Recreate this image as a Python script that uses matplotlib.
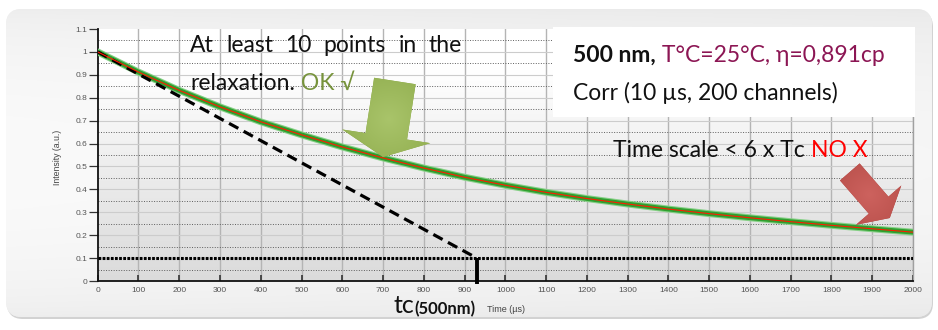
import numpy as np
import matplotlib.pyplot as plt
from matplotlib.patches import FancyBboxPatch, Polygon, Rectangle

# relaxation curve, one reading every 100 us
time_us = [0, 100, 200, 300, 400, 500, 600, 700, 800, 900, 1000,
           1100, 1200, 1300, 1400, 1500, 1600, 1700, 1800, 1900, 2000]
intensity = [1.0, 0.912, 0.832, 0.760, 0.695, 0.638, 0.585, 0.537, 0.493, 0.453, 0.418,
             0.387, 0.360, 0.336, 0.314, 0.294, 0.276, 0.259, 0.243, 0.228, 0.213]

# initial slope line and the 10 % level it crosses at tc
tangent_t = [0, 930]
tangent_y = [1.0, 0.1]
tc_us = 930
level = 0.1

x_ticks = list(range(0, 2001, 100))
y_ticks = [0, 0.1, 0.2, 0.3, 0.4, 0.5, 0.6, 0.7, 0.8, 0.9, 1.0, 1.1]
y_tick_labels = ['0', '0.1', '0.2', '0.3', '0.4', '0.5', '0.6', '0.7', '0.8', '0.9', '1', '1.1']

W, H = 938, 330
fig = plt.figure(figsize=(W / 100, H / 100), dpi=100)
fig.patch.set_facecolor('white')

# ---- rounded grey panel behind everything
bg = fig.add_axes([0, 0, 1, 1], zorder=-10)
bg.set_xlim(0, W)
bg.set_ylim(H, 0)
bg.axis('off')
shadow = FancyBboxPatch((7, 11), 926, 308, boxstyle='round,pad=0,rounding_size=16',
                        fc='#d2d2d2', ec='none')
bg.add_patch(shadow)
panel = FancyBboxPatch((6, 9), 926, 308, boxstyle='round,pad=0,rounding_size=16',
                       fc='#eeeeee', ec='none')
bg.add_patch(panel)
yy = np.linspace(0, 1, 200)[:, None]
xx = np.linspace(0, 1, 300)[None, :]
shade = 0.93 + 0.05 * np.sin(np.pi * yy) ** 0.6 - 0.015 * xx
panel_img = bg.imshow(np.dstack([shade, shade, shade]), extent=(6, 932, 317, 9),
                      aspect='auto', zorder=1)
panel_img.set_clip_path(panel)

# ---- main plot
left, right = 97.7, 913.0
top, bottom = 29.0, 281.0
ax = fig.add_axes([left / W, 1 - bottom / H, (right - left) / W, (bottom - top) / H])
ax.set_xlim(0, 2000)
ax.set_ylim(0, 1.1)

grad = np.linspace(0, 1, 256)[:, None]
g = np.clip(0.86 + 0.17 * (1 - grad) ** 1.1, 0, 1)
ax.imshow(np.dstack([g, g, g]), extent=(0, 2000, 0, 1.1), aspect='auto', zorder=0)

for x in x_ticks[1:]:
    ax.axvline(x, color='#b4b4b4', lw=1.0, zorder=1)
for y in y_ticks[1:-1]:
    ax.axhline(y, color='#cccccc', lw=0.8, zorder=1)
for y in np.array(y_ticks[:-1]) + 0.05:
    ax.axhline(y, color='#5e5e5e', lw=0.7, ls=(0, (1, 1.6)), zorder=1)

ax.plot(time_us, intensity, color='#86d086', lw=5.0, zorder=4, solid_capstyle='round')
ax.plot(time_us, intensity, color='#2f9f2f', lw=3.4, zorder=4, solid_capstyle='round')
ax.plot(time_us, intensity, color='#ff1a00', lw=0.8, zorder=5)

ax.plot(tangent_t, tangent_y, color='black', lw=2.3, ls=(0, (3.3, 1.9)), zorder=4.5)
ax.plot([0, 2000], [level, level], color='black', lw=2.2, ls=(0, (0.9, 0.45)), zorder=3)
ax.plot([tc_us, tc_us], [level, -0.013], color='black', lw=2.8, zorder=6,
        clip_on=False, solid_capstyle='butt')

ax.set_xticks(x_ticks)
ax.set_xticklabels([str(x) for x in x_ticks])
ax.set_yticks(y_ticks)
ax.set_yticklabels(y_tick_labels)
for lab in ax.get_xticklabels() + ax.get_yticklabels():
    lab.set_fontfamily('Liberation Sans')
ax.tick_params(axis='y', direction='out', length=6.3, width=0.9, color='#333333',
               pad=1.4, labelsize=6, labelcolor='#555555')
ax.tick_params(axis='x', direction='in', length=4, width=1.2, color='#333333',
               pad=4.5, labelsize=6, labelcolor='#555555')
ax.spines['top'].set_visible(False)
ax.spines['right'].set_color('#a0a0a0')
ax.spines['right'].set_linewidth(1.0)
for s in ('left', 'bottom'):
    ax.spines[s].set_color('#111111')
    ax.spines[s].set_linewidth(1.3)

# ---- overlay in pixel coordinates for the notes and arrows
over = fig.add_axes([0, 0, 1, 1], zorder=5)
over.set_xlim(0, W)
over.set_ylim(H, 0)
over.axis('off')
over.patch.set_alpha(0)


def to_px(t, v):
    px, py = ax.transData.transform((t, v))
    return np.array([px, H - py])


def block_arrow(tail, tip, shaft_w, head_w, head_len, inner, outer):
    d = tip - tail
    u = d / np.hypot(*d)
    n = np.array([-u[1], u[0]])
    base = tip - u * head_len
    pts = [tail + n * shaft_w / 2, base + n * shaft_w / 2, base + n * head_w / 2, tip,
           base - n * head_w / 2, base - n * shaft_w / 2, tail - n * shaft_w / 2]
    poly = Polygon(pts, closed=True, fc=outer, ec='none', zorder=3)
    over.add_patch(poly)
    # soft radial shading inside the arrow
    cx, cy = (tail + tip) / 2
    r = np.hypot(*d) / 2 + head_w / 2
    gx, gy = np.meshgrid(np.linspace(-1, 1, 120), np.linspace(-1, 1, 120))
    k = np.clip(np.hypot(gx, gy), 0, 1)[..., None]
    rgb = (1 - k) * np.array(inner) + k * np.array(outer)
    img = over.imshow(rgb, extent=(cx - r, cx + r, cy + r, cy - r), zorder=4)
    img.set_clip_path(poly)


def to_rgb(h):
    return [int(h[i:i + 2], 16) / 255 for i in (1, 3, 5)]


block_arrow(to_px(729, 0.873), to_px(700, 0.541), 42, 89, 21,
            to_rgb('#a9c46a'), to_rgb('#86a443'))
block_arrow(to_px(1845, 0.476), to_px(1943, 0.275), 26, 60, 17,
            to_rgb('#cd625e'), to_rgb('#b04843'))
over.set_xlim(0, W)
over.set_ylim(H, 0)

fam = ['Lato', 'DejaVu Sans']
fs = 16.5
renderer = fig.canvas.get_renderer()


def chain(prev, s, **kw):
    return over.annotate(s, xy=(1, 0), xycoords=prev, va='bottom', ha='left',
                         fontsize=fs, family=fam, zorder=10, **kw)


def justified(x0, x1, y, line):
    # spread the words of one line evenly between x0 and x1
    words = [over.text(0, y, w, fontsize=fs, family=fam, va='baseline',
                       color='#111111', zorder=10) for w in line.split()]
    inv = over.transData.inverted()
    widths = []
    for w in words:
        bb = w.get_window_extent(renderer)
        widths.append(inv.transform((bb.x1, 0))[0] - inv.transform((bb.x0, 0))[0])
    gap = (x1 - x0 - sum(widths)) / (len(words) - 1)
    x = x0
    for w, wd in zip(words, widths):
        w.set_x(x)
        x += wd + gap


justified(190, 462, 52, 'At least 10 points in the')
t = over.text(190, 90, 'relaxation.', fontsize=fs, family=fam, va='baseline',
              color='#111111', zorder=10)
chain(t, ' OK √', color='#77933c')

over.add_patch(Rectangle((553, 27), 362, 90, fc='white', ec='none', zorder=8))
t = over.text(573, 62, '500 nm,', fontsize=fs, family=fam, weight='bold',
              va='baseline', color='#111111', zorder=10)
chain(t, ' T°C=25°C, η=0,891cp', color='#8c1654')
over.text(573, 100, 'Corr (10 µs, 200 channels)', fontsize=fs, family=fam,
          va='baseline', color='#111111', zorder=10)

t = over.text(613, 157, 'Time scale < 6 x Tc ', fontsize=fs, family=fam,
              va='baseline', color='#111111', zorder=10)
chain(t, 'NO X', color='#ff0000')

# axis titles
over.text(58, 157, 'Intensity (a.u.)', rotation=90, fontsize=6.3, family='Liberation Sans',
          color='#444444', ha='center', va='center')
over.text(506, 309, 'Time (µs)', fontsize=6.5, family='Liberation Sans',
          color='#444444', ha='center', va='center')
t = over.text(394, 313, 'tc', fontsize=18, family=fam, va='baseline', color='#111111')
over.annotate('(500nm)', xy=(1, 0), xycoords=t, va='bottom', ha='left',
              fontsize=12, family=fam, weight='bold', color='#111111')

fig.savefig('out.png', dpi=100)
